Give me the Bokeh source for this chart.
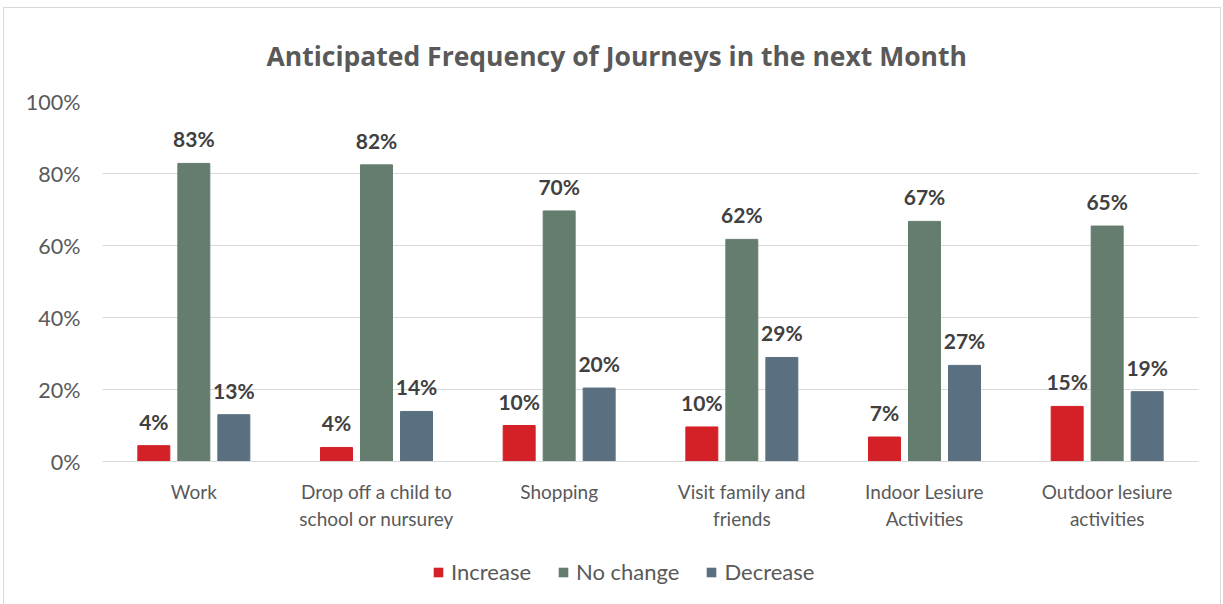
from bokeh.plotting import figure
from bokeh.layouts import column
from bokeh.models import ColumnDataSource, Legend, LegendItem, FixedTicker, Range1d, FactorRange, PrintfTickFormatter
from bokeh.transform import dodge
from bokeh.embed import file_html
from bokeh.resources import INLINE
from bokeh.core.properties import value

categories = ["Work", "Drop off a child to\nschool or nursurey", "Shopping",
              "Visit family and\nfriends", "Indoor Lesiure\nActivities", "Outdoor lesiure\nactivities"]
series = ["Increase", "No change", "Decrease"]
increase = [4.4, 3.9, 10.0, 9.6, 6.8, 15.3]
no_change = [82.8, 82.4, 69.6, 61.7, 66.7, 65.4]
decrease = [13.0, 13.9, 20.4, 28.9, 26.7, 19.4]
y_ticks = [0, 20, 40, 60, 80, 100]

FONT = "Lato"
COLORS = ["#D42027", "#647D6E", "#5A7080"]

src = ColumnDataSource(dict(
    cat=categories,
    inc=increase, noc=no_change, dec=decrease,
    inc_l=[f"{v:.0f}%" for v in increase],
    noc_l=[f"{v:.0f}%" for v in no_change],
    dec_l=[f"{v:.0f}%" for v in decrease],
))

p = figure(width=1216, height=530, x_range=FactorRange(*categories), y_range=Range1d(0, 100),
           output_backend="svg", toolbar_location=None,
           min_border_left=98, min_border_right=22, min_border_top=93, min_border_bottom=77)
p.x_range.range_padding = 0

p.title.text = "Anticipated Frequency of Journeys in the next Month"
p.title.text_font = "Open Sans"
p.title.text_font_size = "26.5px"
p.title.text_font_style = "bold"
p.title.text_color = "#595959"
p.title.align = "left"
p.title.offset = 164
p.title.standoff = 52
p.title.vertical_align = "top"

bw = 0.175
off = 0.219
for col, lab, o, c in [("inc", "inc_l", -off, COLORS[0]), ("noc", "noc_l", 0, COLORS[1]),
                       ("dec", "dec_l", off, COLORS[2])]:
    p.vbar(x=dodge("cat", o, range=p.x_range), top=col, width=bw, source=src, color=c)
    p.text(x=dodge("cat", o, range=p.x_range), y=col, text=lab, source=src,
           text_font=value(FONT), text_font_size="21px", text_font_style="bold",
           text_color="#404040", text_align="center", text_baseline="bottom", y_offset=-12)

p.xgrid.grid_line_color = None
p.ygrid.grid_line_color = "#D9D9D9"
p.ygrid.grid_line_width = 1
p.outline_line_color = None

p.yaxis.ticker = FixedTicker(ticks=y_ticks)
p.yaxis.formatter = PrintfTickFormatter(format="%d%%")
p.yaxis.axis_line_color = None
p.yaxis.major_tick_line_color = None
p.yaxis.minor_tick_line_color = None
p.yaxis.major_label_text_font = FONT
p.yaxis.major_label_text_font_size = "21.5px"
p.yaxis.major_label_text_color = "#595959"
p.yaxis.major_label_standoff = 16

p.xaxis.axis_line_color = "#D9D9D9"
p.xaxis.major_tick_line_color = None
p.xaxis.minor_tick_line_color = None
p.xaxis.major_label_text_font = FONT
p.xaxis.major_label_text_font_size = "19px"
p.xaxis.major_label_text_color = "#595959"
p.xaxis.major_label_standoff = 12

# legend strip
lf = figure(width=1216, height=66, x_range=FactorRange(*series), y_range=Range1d(0, 1),
            output_backend="svg", toolbar_location=None,
            min_border_left=0, min_border_right=0, min_border_top=0, min_border_bottom=0)
lf.axis.visible = False
lf.grid.grid_line_color = None
lf.outline_line_color = None
items = []
for name, c in zip(series, COLORS):
    r = lf.vbar(x=[name], top=[0], width=0.0, fill_color=c, line_color=None)
    items.append(LegendItem(label=name, renderers=[r]))
legend = Legend(items=items, orientation="horizontal", location=(330, 19),
                glyph_width=12, glyph_height=12, label_text_font=FONT,
                label_text_font_size="22px", label_text_color="#595959",
                spacing=26, padding=0, margin=0, border_line_color=None,
                background_fill_alpha=0, label_standoff=7)
lf.add_layout(legend, "center")

layout = column(p, lf, spacing=0,
                styles={"border": "1px solid #D9D9D9", "margin-left": "3px", "margin-top": "7px"})

open("out.html", "w").write(file_html(layout, INLINE))
